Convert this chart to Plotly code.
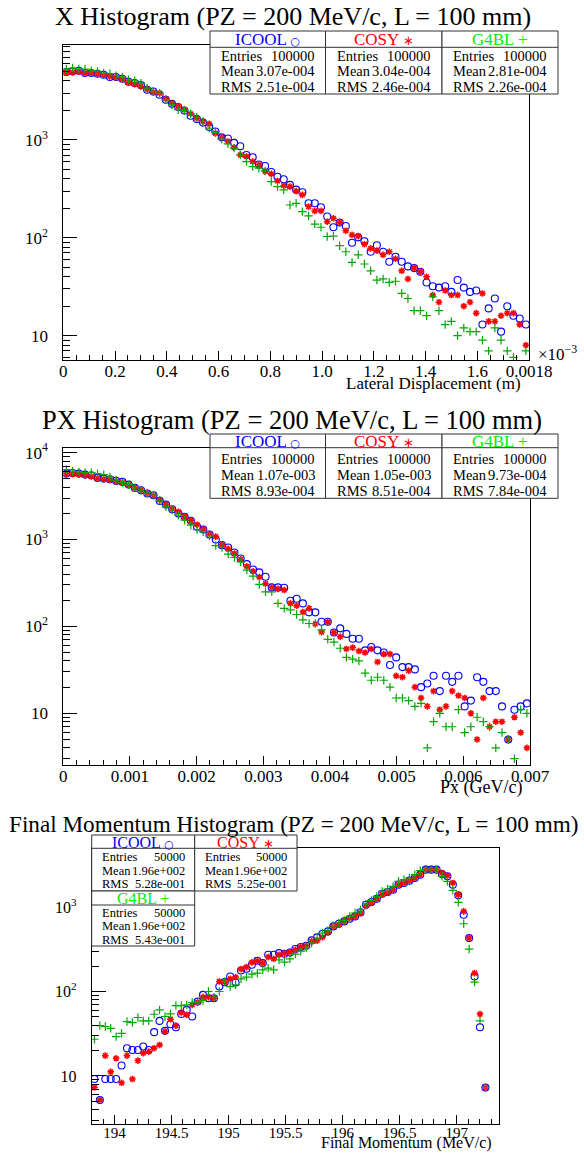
import numpy as np
import plotly.graph_objects as go

W, H = 584, 1153

# ------------------------------------------------------------------ data
# Panel 1 : X histogram (75 bins, 0 .. 0.0018 m)
x_nbins, x_lo, x_hi = 75, 0.0, 0.0018
x_icool = [4920, 5000, 5076, 4805, 4805, 4730, 4620, 4375, 4375, 4200,
           3920, 3800, 3620, 3250, 3120, 2885, 2565, 2330, 2160, 1995,
           1760, 1630, 1500, 1350, 1217, 1060, 1030, 930, 860, 700,
           665, 560, 540, 470, 420, 396, 347, 310, 292, 225,
           225, 205, 165, 128, 143, 132, 89, 101, 92, 72,
           84, 72, 57, 64, 57, 51, 49, 45, 35, 32,
           31, 32, 28, 37, 31, 28, 29, 13, 19, 24,
           11, 20, 16, 15, 13]
x_cosy = [4880, 4880, 4960, 4805, 4805, 4690, 4580, 4440, 4340, 4170,
          3855, 3707, 3510, 3296, 3070, 3000, 2624, 2370, 2193, 2028,
          1846, 1665, 1540, 1458, 1170, 1057, 962, 835, 703, 676,
          600, 555, 475, 449, 380, 340, 333, 300, 274, 208,
          188, 188, 146, 158, 143, 118, 107, 104, 86, 78,
          74, 67, 72, 61, 46, 38, 49, 45, 40, 26,
          22, 29, 26, 26, 20, 22, 17, 27, 14, 14,
          16, 17, 17, 13, 8]
x_g4bl = [5280, 5410, 5280, 5280, 5076, 5000, 4805, 4730, 4510, 4375,
          4108, 4010, 3795, 3375, 3120, 3000, 2563, 2280, 2028, 1996,
          1846, 1700, 1540, 1316, 1189, 1016, 910, 822, 703, 600,
          533, 513, 482, 375, 333, 308, 216, 225, 185, 167,
          138, 128, 103, 104, 83, 72, 56, 67, 54, 46,
          37, 38, 35, 36, 27, 24, 18, 18, 16, 25,
          18, 13, 14, 10, 12, 11, 11, 9, 7, 12,
          9, 7, 6, 5, 7]
x_entries = ["100000", "100000", "100000"]
x_mean = ["3.07e-004", "3.04e-004", "2.81e-004"]
x_rms = ["2.51e-004", "2.46e-004", "2.26e-004"]
x_tickvals = [0, 0.0002, 0.0004, 0.0006, 0.0008, 0.0010, 0.0012, 0.0014, 0.0016, 0.0018]
x_ticktext = ["0", "0.2", "0.4", "0.6", "0.8", "1.0", "1.2", "1.4", "1.6", "0.0018"]

# Panel 2 : PX histogram (75 bins, 0 .. 0.007 GeV/c)
px_nbins, px_lo, px_hi = 75, 0.0, 0.007
px_icool = [5737, 5836, 5737, 5584, 5484, 5117, 5024, 4934, 4724, 4602,
            4286, 3925, 3690, 3378, 3233, 2780, 2523, 2232, 1990, 1822,
            1639, 1398, 1303, 1141, 1000, 861, 809, 709, 605, 521,
            452, 418, 372, 281, 281, 278, 197, 208, 184, 145,
            145, 113, 113, 85, 95, 82, 72, 72, 53, 58,
            53, 50, 36, 44, 34, 34, 32, 20, 22, 27,
            18, 27, 23, 27, 12, 14, 26, 23, 18, 18,
            12, 5, 11, 12, 13]
px_cosy = [5700, 5650, 5600, 5500, 5300, 5050, 4950, 4850, 4650, 4500,
           4250, 3950, 3700, 3400, 3200, 2850, 2550, 2250, 2080, 1850,
           1650, 1480, 1320, 1160, 1080, 870, 780, 690, 590, 490,
           430, 370, 310, 280, 270, 262, 184, 173, 146, 161,
           107, 86, 112, 85, 76, 55, 57, 52, 50, 55,
           39, 48, 48, 27, 26, 31, 20, 15, 12, 18,
           11, 12, 18, 16, 15, 10, 5, 15, 7, 8,
           8, 5, 9, 6, 4]
px_g4bl = [6376, 6100, 6000, 5890, 5890, 5737, 5584, 5250, 4806, 4520,
           4286, 3925, 3690, 3437, 3233, 2830, 2372, 2200, 1904, 1668,
           1460, 1300, 1225, 1100, 850, 809, 678, 621, 554, 444,
           379, 304, 250, 250, 184, 161, 155, 137, 119, 108,
           108, 91, 71, 66, 56, 44, 42, 40, 29, 24,
           26, 24, 20, 15, 15, 14, 12, 13, 4, 8,
           10, 7, 7, 11, 6, 7, 9, 8, 7, 4,
           6, 5, 3, 11, 10]
px_entries = ["100000", "100000", "100000"]
px_mean = ["1.07e-003", "1.05e-003", "9.73e-004"]
px_rms = ["8.93e-004", "8.51e-004", "7.84e-004"]
px_tickvals = [0, 0.001, 0.002, 0.003, 0.004, 0.005, 0.006, 0.007]
px_ticktext = ["0", "0.001", "0.002", "0.003", "0.004", "0.005", "0.006", "0.007"]

# Panel 3 : final momentum histogram (75 bins, 193.8 .. 197.37 MeV/c)
pz_nbins, pz_lo, pz_hi = 75, 193.8, 197.37
pz_icool = [9.2, 5.2, 9.2, 9.2, 9.2, 13.3, 21.3, 20.3, 20.3, 22.3,
            20.3, 33, 44.9, 34.2, 41, 37.8, 54.3, 60.6, 50.6, 76,
            91.2, 83.3, 83.3, 114.5, 129, 150.6, 128, 177, 186, 207,
            231, 217, 272, 272, 285, 280, 290, 318, 336, 348,
            403, 437, 483, 515, 590, 634, 676, 727, 775, 864,
            1066, 1147, 1255, 1439, 1506, 1605, 1840, 1926, 2052, 2207,
            2417, 2772, 2772, 2772, 2461, 2311, 1840, 1375, 811, 429,
            151, 37.8, 7.3, 0, 0]
pz_cosy = [7.3, 5.2, 17.4, 11.2, 16.2, 8.3, 17.4, 9.2, 15.2, 18.6,
           19.4, 21.3, 23.3, 33.6, 47, 39.5, 56.4, 52.9, 69.5, 74.8,
           85.7, 85.7, 83, 131.6, 129, 141, 148, 184, 194.5, 221,
           231, 217, 255, 244, 272, 282, 293, 312, 336, 348,
           392, 400, 440, 500, 585, 620, 676, 740, 775, 850,
           1030, 1120, 1255, 1400, 1480, 1605, 1840, 1926, 2052, 2207,
           2420, 2772, 2772, 2772, 2530, 2355, 1927, 1400, 889, 429,
           165, 54, 7.3, 0, 0]
pz_g4bl = [27.2, 39.5, 38.5, 36.7, 29.2, 32, 44.1, 42.9, 49.2, 44.9,
           44.9, 53.8, 60.6, 50.6, 54.3, 68.2, 68.2, 69.5, 74.1, 74.8,
           78.2, 100, 85.7, 100, 131.6, 114.5, 120, 141, 148, 160.7,
           165, 180.6, 189, 180.6, 237, 223, 244, 277, 300, 330,
           374, 430, 492, 524, 600, 646, 695, 775, 850, 930,
           1086, 1200, 1338, 1534, 1635, 1757, 2016, 2110, 2207, 2420,
           2700, 2800, 2800, 2772, 2311, 2016, 1577, 1136, 634, 318,
           129, 45, 7.3, 0, 0]
pz_entries = ["50000", "50000", "50000"]
pz_mean = ["1.96e+002", "1.96e+002", "1.96e+002"]
pz_rms = ["5.28e-001", "5.25e-001", "5.43e-001"]
pz_tickvals = [194, 194.5, 195, 195.5, 196, 196.5, 197]
pz_ticktext = ["194", "194.5", "195", "195.5", "196", "196.5", "197"]

codes = ["ICOOL", "COSY", "G4BL"]

# ------------------------------------------------------------------ style
FONT = "Liberation Serif, Times New Roman, serif"
C_BLUE, C_RED, C_GREEN_M, C_GREEN_T = "#0000ff", "#ff0000", "#00a800", "#00ee00"
mk = [dict(symbol="circle-open", size=7, color=C_BLUE, line=dict(color=C_BLUE, width=1.1)),
      dict(symbol="asterisk-open", size=5.5, color=C_RED, line=dict(color=C_RED, width=1.5)),
      dict(symbol="cross-thin-open", size=6, color=C_GREEN_M, line=dict(color=C_GREEN_M, width=1.2))]
head_col = [C_BLUE, C_RED, C_GREEN_T]
sym_txt = ["<span style='font-family:DejaVu Sans;font-size:11px'>\u25cb</span>",
           "<span style='font-family:DejaVu Sans;font-size:13px'>\u2217</span>",
           "+"]


def centers(lo, hi, n):
    return lo + (np.arange(n) + 0.5) * (hi - lo) / n


def clean(v):
    return [None if (a is None or a <= 0) else a for a in v]


fig = go.Figure()
panels = [
    (centers(x_lo, x_hi, x_nbins), [x_icool, x_cosy, x_g4bl], "x", "y"),
    (centers(px_lo, px_hi, px_nbins), [px_icool, px_cosy, px_g4bl], "x2", "y2"),
    (centers(pz_lo, pz_hi, pz_nbins), [pz_icool, pz_cosy, pz_g4bl], "x3", "y3"),
]
for xc, series, xa, ya in panels:
    for k, s in enumerate(series):
        fig.add_trace(go.Scatter(x=xc, y=clean(s), mode="markers", marker=mk[k],
                                 xaxis=xa, yaxis=ya, showlegend=False, hoverinfo="skip",
                                 cliponaxis=True))


def fx(p):
    return p / W


def fy(p):
    return 1 - p / H


def log_minor(lo_dec, hi_dec):
    out = []
    for d in range(lo_dec, hi_dec + 1):
        for m in range(2, 10):
            out.append(m * 10 ** d)
    return out


base_axis = dict(showline=True, linecolor="black", linewidth=1, mirror=True,
                 ticks="inside", tickcolor="black", tickwidth=1, automargin=False,
                 showgrid=False, zeroline=False)


def xaxis(dom, rng, tv, tt, dtick_minor, fs, ylink, stand):
    d = dict(base_axis)
    d.update(domain=[fx(dom[0]), fx(dom[1])], range=rng, tickmode="array",
             tickvals=tv, ticktext=tt, ticklen=9, anchor=ylink, ticklabelstandoff=stand,
             tickfont=dict(family=FONT, size=fs, color="black"),
             minor=dict(ticks="inside", ticklen=5, tickcolor="black", dtick=dtick_minor,
                        tick0=0, showgrid=False))
    return d


def yaxis(dom, rng, tv, tt, fs, xlink):
    d = dict(base_axis)
    d.update(type="log", domain=[fy(dom[1]), fy(dom[0])], range=rng, tickmode="array",
             tickvals=tv, ticktext=tt, ticklen=14, anchor=xlink, ticklabelstandoff=11,
             tickfont=dict(family=FONT, size=fs, color="black"),
             minor=dict(ticks="inside", ticklen=7, tickcolor="black", tickmode="array",
                        tickvals=log_minor(0, 4), showgrid=False))
    return d


dec = ["10", "10<sup>2</sup>", "10<sup>3</sup>", "10<sup>4</sup>"]
fig.update_layout(
    width=W, height=H, autosize=False,
    margin=dict(l=0, r=0, t=0, b=0, pad=0, autoexpand=False),
    paper_bgcolor="white", plot_bgcolor="white", showlegend=False,
    xaxis=xaxis((63.3, 529), [x_lo, x_hi], x_tickvals, x_ticktext, 0.00005, 17, "y", -4),
    yaxis=yaxis((44.7, 360), [np.log10(5.65), np.log10(9360)], [10, 100, 1000], dec[:3], 17, "x"),
    xaxis2=xaxis((63.3, 530), [px_lo, px_hi], px_tickvals, px_ticktext, 0.0002, 17, "y2", -4),
    yaxis2=yaxis((448, 765), [np.log10(2.54), np.log10(11300)], [10, 100, 1000, 10000], dec, 17, "x2"),
    xaxis3=xaxis((91.7, 499), [pz_lo, pz_hi], pz_tickvals, pz_ticktext, 0.1, 15, "y3", -5),
    yaxis3=yaxis((848, 1124), [np.log10(2.7), np.log10(5000)], [10, 100, 1000], dec[:3], 16, "x3"),
)

shapes, annos = [], []


def text(x, y, s, size, color="black", anchor="center"):
    annos.append(dict(x=fx(x), y=fy(y), xref="paper", yref="paper", text=s, showarrow=False,
                      xanchor=anchor, yanchor="middle", borderpad=0,
                      font=dict(family=FONT, size=size, color=color)))


def rect(x0, y0, x1, y1):
    shapes.append(dict(type="rect", xref="paper", yref="paper", x0=fx(x0), x1=fx(x1),
                       y0=fy(y1), y1=fy(y0), fillcolor="white",
                       line=dict(color="#333333", width=1), layer="above"))


def line(x0, y0, x1, y1):
    shapes.append(dict(type="line", xref="paper", yref="paper", x0=fx(x0), x1=fx(x1),
                       y0=fy(y0), y1=fy(y1), line=dict(color="#333333", width=1), layer="above"))


def stat_col(x0, x1, top, hline, rows_y, bottom, k, entries, mean, rms, hsize, bsize, pad):
    rect(x0, top, x1, bottom)
    line(x0, hline, x1, hline)
    text((x0 + x1) / 2, (top + hline) / 2 + 0.5, codes[k] + " " + sym_txt[k], hsize, head_col[k])
    labels = ["Entries", "Mean", "RMS"]
    vals = [entries[k], mean[k], rms[k]]
    for lab, val, yy in zip(labels, vals, rows_y):
        text(x0 + pad, yy, lab, bsize, anchor="left")
        text(x1 - pad, yy, val, bsize, anchor="right")


# titles
text(293, 17, "X Histogram (PZ = 200 MeV/c, L = 100 mm)", 26)
text(292, 420, "PX Histogram (PZ = 200 MeV/c, L = 100 mm)", 26.5)
text(294, 824, "Final Momentum Histogram (PZ = 200 MeV/c, L = 100 mm)", 23.2)

# panel 1 stats
cols1 = [(210, 325.5), (325.5, 442), (442, 558)]
for k, (a, b) in enumerate(cols1):
    stat_col(a, b, 31, 47.3, [55.5, 71, 86.5], 94, k, x_entries, x_mean, x_rms, 17, 14.5, 10)
# panel 2 stats
for k, (a, b) in enumerate(cols1):
    stat_col(a, b, 434, 447.7, [458.5, 474.5, 490.5], 498.3, k, px_entries, px_mean, px_rms, 17, 14.5, 10)
# panel 3 stats
stat_col(91.7, 194.7, 835, 848.3, [857, 870.5, 884], 891, 0, pz_entries, pz_mean, pz_rms, 16, 12.5, 9)
stat_col(194.7, 297, 835, 848.3, [857, 870.5, 884], 891, 1, pz_entries, pz_mean, pz_rms, 16, 12.5, 9)
stat_col(91.7, 194.7, 891, 905, [913, 926, 940], 946, 2, pz_entries, pz_mean, pz_rms, 16, 12.5, 9)

# axis titles
text(522, 383, "Lateral Displacement (m)", 17, anchor="right")
text(537, 353, "\u00d710<sup>\u22123</sup>", 17, anchor="left")
text(523, 787, "Px (GeV/c)", 18, anchor="right")
text(493, 1143, "Final Momentum (MeV/c)", 16, anchor="right")

fig.update_layout(shapes=shapes, annotations=annos)
fig.write_html("out.html", config={"displayModeBar": False},
               post_script="document.body.style.margin='0';document.body.style.overflow='hidden';")
